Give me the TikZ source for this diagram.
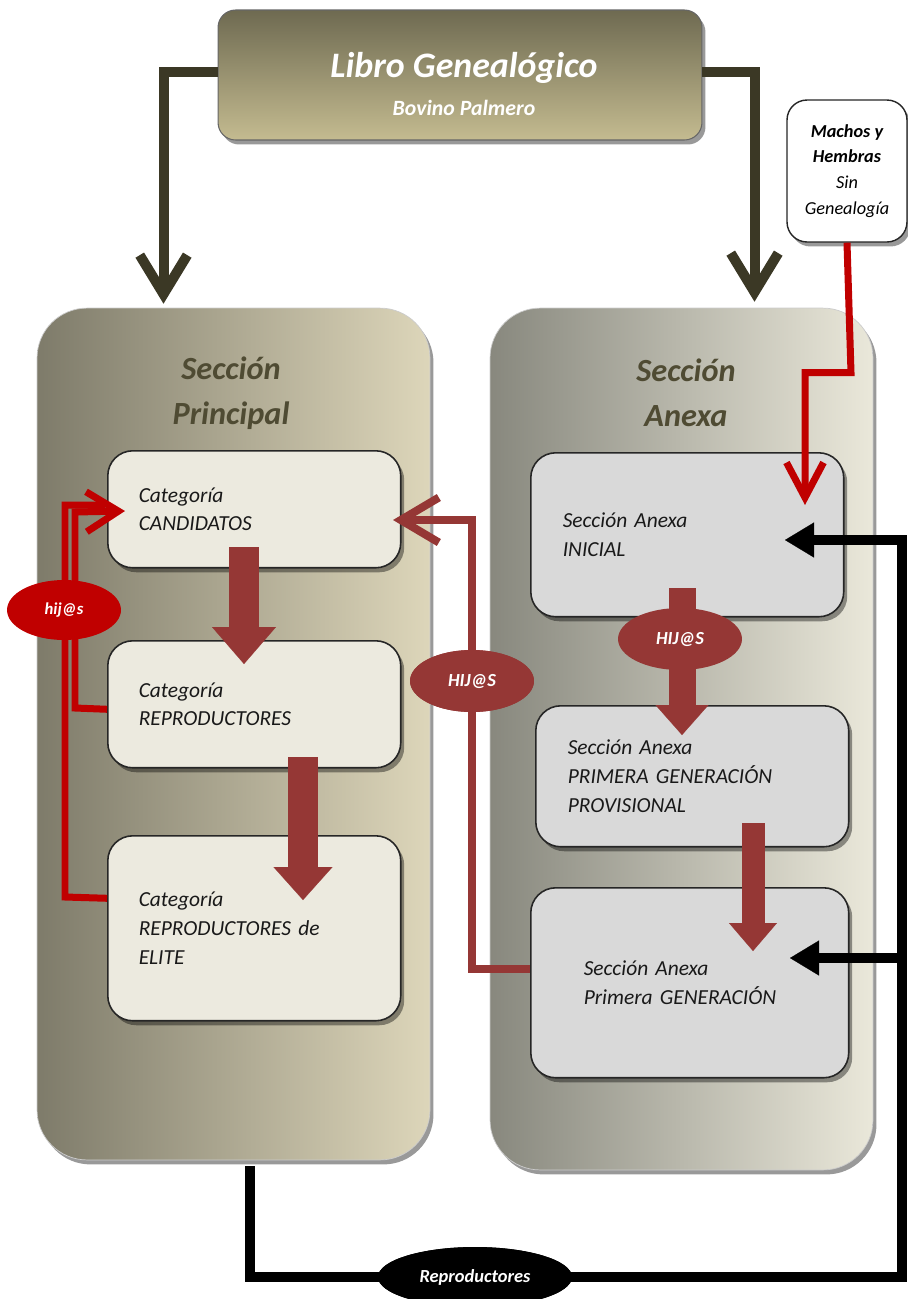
\documentclass[tikz,border=0pt]{standalone}
\usepackage{fontspec}
\setmainfont{Carlito}
\usetikzlibrary{arrows.meta,shadows,calc,shapes.geometric}
\definecolor{brn}{HTML}{953735}
\definecolor{redc}{HTML}{C00000}
\definecolor{oliv}{HTML}{3B3825}
\definecolor{ttl}{HTML}{4F4B33}
\definecolor{catfill}{HTML}{ECEADF}
\definecolor{anxfill}{HTML}{D9D9D9}
\definecolor{secPl}{RGB}{126,123,106}
\definecolor{secPr}{RGB}{221,214,186}
\definecolor{secAl}{RGB}{136,136,126}
\definecolor{secAr}{RGB}{234,232,218}
\definecolor{topT}{RGB}{110,106,81}
\definecolor{topB}{RGB}{196,187,144}
\begin{document}
\begin{tikzpicture}[x=0.02cm,y=-0.02cm,
  shad/.style={drop shadow={shadow xshift=0.07cm,shadow yshift=-0.09cm,opacity=0.4,fill=black}},
  boxbase/.style={draw=black!85, line width=0.9pt, rounded corners=0.5cm, anchor=north west, align=left,
    font=\itshape\fontsize{12.2}{16.4}\selectfont, text=black!90, inner ysep=0pt, shad},
  catbox/.style={boxbase, fill=catfill, inner xsep=0.62cm, text width=4.62cm},
  anxbox/.style={boxbase, fill=anxfill},
  secbox/.style={rounded corners=1cm, shad, draw=black!20, line width=0.4pt},
  sectitle/.style={font=\bfseries\itshape\fontsize{18.4}{25.5}\selectfont, text=ttl, align=center},
  oval/.style={ellipse, inner sep=0pt, text=white, font=\bfseries\itshape\fontsize{10.5}{12}\selectfont},
  olivearrow/.style={oliv, line width=0.2cm, -{Straight Barb[length=0.78cm,width=0.95cm]}},
  redline/.style={redc, line width=0.14cm},
  brnline/.style={brn, line width=0.16cm},
  blkline/.style={black, line width=0.2cm},
  blkarrow/.style={blkline, -{Triangle[length=0.58cm,width=0.7cm,line width=0.1pt]}},
  thick arrow/.style={brn, line width=#1},
  toptext/.style={text=white, font=\bfseries\itshape, inner sep=0pt}
]
\useasboundingbox (0,0) rectangle (907,1299);

% sections
\node[secbox, left color=secPl, right color=secPr,
      minimum width=7.86cm, minimum height=17.04cm] (secP) at (233.5,734) {};
\node[secbox, left color=secAl, right color=secAr,
      minimum width=7.66cm, minimum height=17.24cm] (secA) at (681.5,739) {};
\node[sectitle] (tP) at (231,393) {Sección\\Principal};
\node[sectitle] (tA) at (686,393) {Sección\\Anexa};

% top box
\node[rounded corners=0.35cm, top color=topT, bottom color=topB,
      draw=black!60, line width=0.6pt, shad, minimum width=9.68cm, minimum height=2.6cm] (top) at (460,75) {};
\node[toptext, font=\bfseries\itshape\fontsize{20.4}{24}\selectfont] (ttitle) at (464,68) {Libro Genealógico};
\node[toptext, font=\bfseries\itshape\fontsize{12.4}{15}\selectfont] (tsub) at (464,108) {Bovino Palmero};

% machos box
\node[rounded corners=0.4cm, fill=white, draw=black!85, line width=0.8pt, shad, minimum width=2.4cm, minimum height=2.84cm,
      align=center, font=\itshape\fontsize{10.4}{14.7}\selectfont] (mach) at (847,171)
  {\textbf{Machos y}\\\textbf{Hembras}\\Sin\\Genealogía};

% category boxes
\node[catbox, minimum height=2.34cm] (cand) at (107,450) {Categoría\\CANDIDATOS};
\node[catbox, minimum height=2.54cm] (repro) at (107,640) {Categoría\\REPRODUCTORES};
\node[catbox, minimum height=3.7cm] (elite) at (107,835) {Categoría\\REPRODUCTORES de\\ELITE};

% annex boxes
\node[anxbox, inner xsep=0.64cm, text width=4.98cm, minimum height=3.28cm] (inic) at (530,452) {Sección Anexa\\INICIAL};
\node[anxbox, inner xsep=0.64cm, text width=4.98cm, minimum height=2.82cm] (prov) at (535,705) {Sección Anexa\\PRIMERA GENERACIÓN\\PROVISIONAL};
\node[anxbox, inner xsep=1.06cm, text width=4.24cm, minimum height=3.8cm] (pgen) at (530,887) {Sección Anexa\\Primera GENERACIÓN};

% olive arrows from top
\draw[olivearrow] ([yshift=0.06cm]top.west) -| ($(secP.north)+(-70,-4)$);
\draw[olivearrow] ([yshift=0.06cm]top.east) -| ($(secA.north)+(73,-6)$);

% red from machos
\coordinate (rtip) at (805,505);
\draw[redline, -{Straight Barb[length=0.7cm,width=0.74cm]}] (mach.south) -- ($(mach.south)+(4,130)$) -| (rtip);

% thick brown arrows
\coordinate (a1s) at (244,547); \coordinate (a1e) at (244,664);
\coordinate (a2s) at (303,757); \coordinate (a2e) at (303,900);
\coordinate (a3s) at (682,588); \coordinate (a3e) at (682,735);
\coordinate (a4s) at (753,823); \coordinate (a4e) at (753,951);
\draw[thick arrow=0.62cm, -{Triangle[length=0.74cm,width=1.28cm,line width=0.1pt]}] (a1s) -- (a1e);
\draw[thick arrow=0.6cm, -{Triangle[length=0.66cm,width=1.18cm,line width=0.1pt]}] (a2s) -- (a2e);
\draw[thick arrow=0.54cm, -{Triangle[length=0.6cm,width=1.06cm,line width=0.1pt]}] (a3s) -- (a3e);
\draw[thick arrow=0.46cm, -{Triangle[length=0.56cm,width=0.96cm,line width=0.1pt]}] (a4s) -- (a4e);

% left red hij@s loop
\coordinate (ctip) at (125,511);
\draw[redline] ([yshift=0.6cm]elite.west) -- (65,897) -- (65,505) -- (105,505);
\draw[redline, -{Straight Barb[length=0.64cm,width=0.8cm]}] ([yshift=-0.1cm]repro.west) -- (75,708) -- (75,512) -- (ctip);
\node[oval, fill=redc, minimum width=2.28cm, minimum height=1.2cm, font=\bfseries\itshape\fontsize{9.5}{11}\selectfont] (h1) at (64,610) {hij@s};

% brown HIJ@S connector
\coordinate (btip) at (393,520);
\node[oval, fill=brn, minimum width=2.48cm, minimum height=1.24cm] (hB) at (472,681) {};
\draw[brnline, -{Straight Barb[length=0.76cm,width=0.9cm]}] ([yshift=0.28cm]pgen.west) -| (hB.center) |- (btip);
\node[oval, fill=brn, minimum width=2.48cm, minimum height=1.24cm] (hB2) at (hB) {HIJ@S};
\node[oval, fill=brn, minimum width=2.48cm, minimum height=1.24cm] (hM) at (680,639) {HIJ@S};

% black Reproductores loop
\coordinate (bt1) at (785,540);
\coordinate (bt2) at (790,958);
\node[oval, fill=black, minimum width=3.88cm, minimum height=1.2cm] (rep) at (475,1277) {};
\draw[blkline] ($(secP.south)+(16,6)$) |- (rep.center);
\draw[blkarrow] (rep.center) -| ($(bt1)+(117,0)$) -- (bt1);
\draw[blkarrow] ($(bt2)+(112,0)$) -- (bt2);
\node[oval, fill=black, minimum width=3.88cm, minimum height=1.2cm] (rep2) at (rep) {Reproductores};
\end{tikzpicture}
\end{document}
